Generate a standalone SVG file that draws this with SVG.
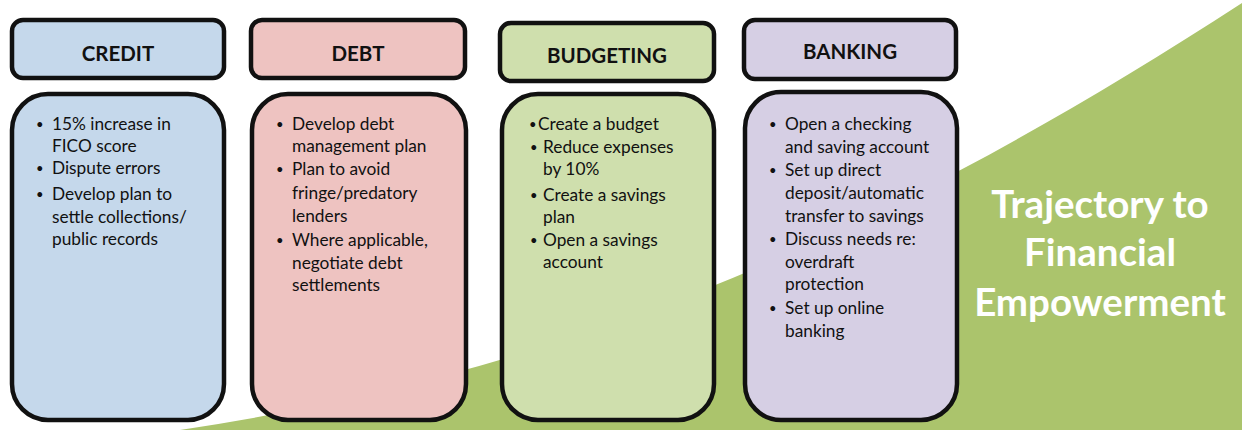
<svg xmlns="http://www.w3.org/2000/svg" width="1242" height="430" viewBox="0 0 1242 430">
<style>
.hd{stroke:#111;stroke-width:4.5}
.bd{stroke:#111;stroke-width:4.5}
.ht{font-family:Lato,"Liberation Sans",sans-serif;font-weight:700;font-size:20.5px;fill:#111;text-anchor:middle}
.bt{font-family:Lato,"Liberation Sans",sans-serif;font-size:17.3px;fill:#111}
.b{font-size:13px}
.big{font-family:Lato,"Liberation Sans",sans-serif;font-weight:700;font-size:38.5px;fill:#ffffff;text-anchor:middle}
.blue{fill:#c5d8eb}.red{fill:#eec3c1}.green{fill:#cfdfad}.purple{fill:#d6cfe4}
</style>
<rect width="1242" height="430" fill="#ffffff"/>
<path id="trajectory" d="M180,430 C580,370 892,230 1242,3 L1242,430 Z" fill="#abc46c"/>
<g id="credit">
<rect class="hd blue" x="12" y="20" width="212" height="58" rx="11"/>
<text class="ht" x="118" y="61">CREDIT</text>
<rect class="bd blue" x="12" y="94" width="212" height="326" rx="36"/>
<text class="bt"><tspan class="b" x="36" y="129">•</tspan><tspan x="52" y="130">15% increase in</tspan><tspan x="52" y="152">FICO score</tspan><tspan class="b" x="36" y="173">•</tspan><tspan x="52" y="174">Dispute errors</tspan><tspan class="b" x="36" y="199">•</tspan><tspan x="52" y="200">Develop plan to</tspan><tspan x="52" y="223">settle collections/</tspan><tspan x="52" y="245">public records</tspan></text>
</g>
<g id="debt">
<rect class="hd red" x="251" y="20" width="214" height="58" rx="11"/>
<text class="ht" x="358" y="61">DEBT</text>
<rect class="bd red" x="252" y="94" width="214" height="326" rx="36"/>
<text class="bt"><tspan class="b" x="276" y="129">•</tspan><tspan x="292" y="130">Develop debt</tspan><tspan x="292" y="152">management plan</tspan><tspan class="b" x="276" y="174">•</tspan><tspan x="292" y="175">Plan to avoid</tspan><tspan x="292" y="199">fringe/predatory</tspan><tspan x="292" y="222">lenders</tspan><tspan class="b" x="276" y="245">•</tspan><tspan x="292" y="246">Where applicable,</tspan><tspan x="292" y="269">negotiate debt</tspan><tspan x="292" y="291">settlements</tspan></text>
</g>
<g id="budgeting">
<rect class="hd green" x="500" y="23" width="214" height="58" rx="11"/>
<text class="ht" x="607" y="63">BUDGETING</text>
<rect class="bd green" x="502" y="94" width="212" height="326" rx="36"/>
<text class="bt"><tspan class="b" x="529" y="129">•</tspan><tspan x="538" y="130">Create a budget</tspan><tspan class="b" x="530" y="152">•</tspan><tspan x="543" y="153">Reduce expenses</tspan><tspan x="543" y="175">by 10%</tspan><tspan class="b" x="530" y="200">•</tspan><tspan x="543" y="201">Create a savings</tspan><tspan x="543" y="223">plan</tspan><tspan class="b" x="530" y="245">•</tspan><tspan x="543" y="246">Open a savings</tspan><tspan x="543" y="268">account</tspan></text>
</g>
<g id="banking">
<rect class="hd purple" x="744" y="20" width="212" height="59" rx="11"/>
<text class="ht" x="850" y="59">BANKING</text>
<rect class="bd purple" x="745" y="92" width="212" height="328" rx="36"/>
<text class="bt"><tspan class="b" x="769" y="129">•</tspan><tspan x="785" y="130">Open a checking</tspan><tspan x="785" y="153">and saving account</tspan><tspan class="b" x="769" y="175">•</tspan><tspan x="785" y="176">Set up direct</tspan><tspan x="785" y="199">deposit/automatic</tspan><tspan x="785" y="222">transfer to savings</tspan><tspan class="b" x="769" y="244">•</tspan><tspan x="785" y="245">Discuss needs re:</tspan><tspan x="785" y="268">overdraft</tspan><tspan x="785" y="290">protection</tspan><tspan class="b" x="769" y="313">•</tspan><tspan x="785" y="314">Set up online</tspan><tspan x="785" y="337">banking</tspan></text>
</g>
<g id="title">
<text class="big" x="1100" y="218">Trajectory to</text>
<text class="big" x="1100" y="266">Financial</text>
<text class="big" x="1100" y="316">Empowerment</text>
</g>
<g id="connectors"></g>
</svg>
